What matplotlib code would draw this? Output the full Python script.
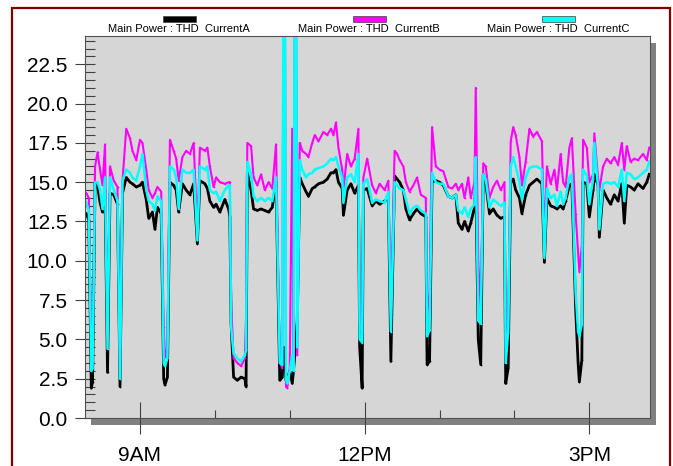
import numpy as np
import matplotlib
matplotlib.use("Agg")
import matplotlib.pyplot as plt
from matplotlib.patches import Rectangle
from matplotlib.ticker import MultipleLocator, FixedLocator

plt.rcParams['font.family'] = ['Liberation Sans', 'DejaVu Sans']

# sample times (clock time) and THD readings (%) for the three phases
times = [
    "8:17", "8:19", "8:21", "8:22", "8:24", "8:26", "8:28", "8:30", "8:32", "8:34",
    "8:36", "8:39", "8:42", "8:44", "8:46", "8:49", "8:52", "8:54", "8:57", "9:00",
    "9:02", "9:05", "9:07", "9:10", "9:12", "9:14", "9:17", "9:19", "9:20", "9:22",
    "9:24", "9:27", "9:29", "9:31", "9:34", "9:37", "9:40", "9:43", "9:46", "9:48",
    "9:52", "9:54", "9:56", "9:59", "10:01", "10:04", "10:08", "10:11", "10:12", "10:13",
    "10:15", "10:18", "10:21", "10:24", "10:25", "10:26", "10:29", "10:31", "10:34", "10:37",
    "10:40", "10:43", "10:46", "10:49", "10:52", "10:54", "10:55", "10:56", "10:57", "10:58",
    "11:00", "11:02", "11:03", "11:04", "11:05", "11:06", "11:08", "11:10", "11:13", "11:15",
    "11:18", "11:20", "11:23", "11:27", "11:30", "11:33", "11:35", "11:37", "11:39", "11:42",
    "11:43", "11:46", "11:49", "11:52", "11:55", "11:56", "11:58", "11:59", "12:02", "12:06",
    "12:09", "12:12", "12:16", "12:19", "12:21", "12:24", "12:26", "12:28", "12:31", "12:33",
    "12:36", "12:39", "12:42", "12:45", "12:49", "12:50", "12:52", "12:54", "12:57", "13:00",
    "13:03", "13:07", "13:10", "13:13", "13:15", "13:18", "13:20", "13:23", "13:25", "13:28",
    "13:29", "13:31", "13:33", "13:35", "13:37", "13:40", "13:43", "13:46", "13:49", "13:52",
    "13:53", "13:55", "13:57", "13:59", "14:01", "14:04", "14:06", "14:09", "14:12", "14:15",
    "14:18", "14:22", "14:24", "14:26", "14:29", "14:32", "14:34", "14:37", "14:39", "14:41",
    "14:44", "14:46", "14:49", "14:51", "14:52", "14:54", "14:55", "14:58", "15:00", "15:03",
    "15:04", "15:07", "15:08", "15:11", "15:14", "15:17", "15:20", "15:23", "15:26", "15:28",
    "15:30", "15:33", "15:36", "15:39", "15:43", "15:46", "15:48",
]

thd_a = [
    13.0, 12.6, 1.9, 2.3, 14.9, 14.8, 13.7, 13.1, 14.5, 2.9,
    14.3, 14.2, 13.6, 2.0, 14.3, 15.3, 15.0, 14.9, 14.7, 14.8,
    15.0, 13.9, 12.7, 13.1, 12.0, 13.4, 13.0, 2.5, 2.1, 2.6,
    15.0, 14.8, 14.5, 13.1, 14.9, 14.5, 14.2, 14.9, 11.1, 15.1,
    14.9, 14.6, 13.8, 13.4, 13.6, 13.1, 13.9, 13.3, 12.8, 6.0,
    2.6, 2.4, 2.6, 2.5, 2.0, 15.6, 14.5, 13.3, 13.2, 13.3,
    13.2, 13.1, 13.4, 15.0, 2.4, 2.6, 4.5, 3.5, 2.4, 2.5,
    3.0, 2.2, 3.0, 4.0, 5.0, 6.2, 15.3, 14.9, 14.4, 14.1,
    14.6, 14.7, 14.9, 15.0, 15.2, 15.6, 15.6, 15.8, 15.0, 14.6,
    12.9, 14.5, 14.9, 14.3, 14.8, 4.5, 1.9, 14.5, 14.6, 13.5,
    13.8, 13.6, 13.8, 14.0, 3.6, 15.4, 15.2, 15.0, 14.5, 13.3,
    12.6, 13.0, 13.3, 13.0, 12.8, 3.4, 3.6, 15.0, 15.1, 15.0,
    14.8, 14.1, 14.0, 14.2, 12.4, 12.0, 12.5, 11.9, 12.4, 13.4,
    15.0, 5.0, 3.4, 15.5, 15.0, 13.0, 13.3, 12.9, 12.7, 12.8,
    2.2, 3.2, 15.0, 15.2, 14.5, 14.0, 13.0, 14.2, 14.8, 15.0,
    15.2, 14.9, 9.9, 14.0, 13.5, 13.4, 13.3, 13.5, 13.3, 13.8,
    14.8, 14.9, 7.0, 3.5, 2.3, 3.7, 15.0, 14.9, 12.8, 14.5,
    15.5, 14.8, 11.5, 14.5, 14.0, 13.6, 14.2, 13.8, 14.9, 12.4,
    14.8, 14.7, 14.5, 14.9, 14.6, 15.0, 15.5,
]

thd_b = [
    14.3, 14.0, 4.1, 3.6, 16.0, 16.9, 15.8, 14.8, 17.4, 5.1,
    16.0, 15.1, 14.7, 2.7, 15.1, 18.4, 17.8, 17.0, 16.4, 17.7,
    17.5, 15.8, 14.5, 14.0, 14.3, 14.7, 14.4, 5.8, 3.9, 4.5,
    17.7, 17.0, 16.5, 15.1, 16.6, 17.0, 16.8, 17.5, 11.8, 17.2,
    17.0, 17.2, 16.0, 14.7, 15.3, 15.0, 14.9, 15.0, 15.0, 7.3,
    3.8, 3.5, 3.3, 3.8, 6.4, 17.5, 17.3, 15.3, 14.8, 15.5,
    14.5, 15.0, 14.6, 17.4, 3.5, 3.2, 30.0, 30.0, 2.0, 1.9,
    3.2, 18.4, 3.5, 30.0, 30.0, 4.0, 17.5, 17.0, 16.8, 16.6,
    17.5, 18.0, 17.6, 18.2, 18.0, 18.4, 18.0, 18.8, 17.2, 15.8,
    14.5, 16.8, 16.0, 16.5, 18.4, 6.0, 5.5, 15.3, 16.5, 14.8,
    14.3, 14.9, 14.5, 15.1, 6.4, 17.0, 16.8, 16.4, 16.0, 15.0,
    14.4, 14.8, 15.3, 14.2, 14.0, 6.5, 8.0, 18.5, 16.0, 15.8,
    15.7, 14.7, 14.6, 14.9, 14.5, 14.9, 14.0, 15.3, 14.0, 15.0,
    21.0, 9.9, 7.0, 16.2, 16.0, 14.0, 14.7, 15.1, 14.5, 15.0,
    4.5, 5.8, 17.6, 18.5, 18.0, 16.6, 14.8, 16.3, 18.4, 17.9,
    18.2, 17.6, 11.2, 16.0, 14.9, 15.8, 14.5, 16.8, 15.0, 14.7,
    17.2, 17.8, 13.0, 10.5, 9.3, 11.0, 17.7, 17.2, 15.0, 15.5,
    18.1, 15.2, 14.5, 16.0, 16.5, 16.2, 16.6, 16.1, 17.5, 15.8,
    17.3, 16.3, 16.5, 16.4, 16.8, 16.4, 17.2,
]

thd_c = [
    13.7, 13.2, 3.0, 3.2, 15.0, 15.0, 14.5, 13.3, 15.3, 4.4,
    15.3, 14.5, 13.8, 2.5, 15.1, 15.8, 15.6, 15.3, 15.1, 16.0,
    16.8, 14.5, 13.8, 13.6, 13.2, 14.1, 13.8, 3.5, 3.3, 3.8,
    16.0, 15.8, 15.3, 13.3, 15.8, 15.6, 15.6, 15.8, 11.3, 16.0,
    15.8, 16.0, 14.5, 14.3, 14.4, 13.8, 14.5, 14.8, 14.8, 5.8,
    4.1, 3.8, 3.6, 4.0, 4.3, 16.3, 15.5, 14.1, 13.8, 14.0,
    13.8, 14.0, 13.8, 15.3, 3.5, 3.4, 30.0, 30.0, 2.5, 2.2,
    3.0, 4.0, 3.0, 30.0, 30.0, 4.5, 16.4, 15.8, 15.3, 15.5,
    15.6, 15.8, 15.9, 16.0, 16.2, 16.5, 16.4, 16.6, 16.0, 15.3,
    13.7, 15.3, 15.5, 15.0, 16.8, 5.0, 4.8, 14.9, 15.2, 13.7,
    13.9, 13.8, 13.7, 14.4, 5.5, 15.0, 14.8, 14.6, 14.5, 13.9,
    13.0, 13.4, 13.5, 13.2, 13.0, 5.2, 5.6, 15.6, 15.0, 14.9,
    14.9, 14.1, 14.0, 14.2, 13.2, 13.0, 13.4, 12.8, 13.3, 13.6,
    16.6, 6.2, 6.0, 15.5, 15.2, 13.4, 13.9, 13.7, 13.5, 13.7,
    3.5, 5.5, 16.0, 16.6, 16.0, 15.0, 13.9, 15.3, 15.9, 16.0,
    16.0, 15.8, 10.2, 14.6, 14.0, 14.2, 13.5, 14.4, 13.6, 14.0,
    15.3, 15.5, 8.0, 5.5, 5.2, 6.0, 15.8, 15.4, 13.6, 15.2,
    17.5, 14.6, 12.0, 14.9, 15.0, 14.9, 15.0, 14.7, 15.8, 13.8,
    15.6, 15.5, 15.2, 15.3, 15.6, 15.8, 16.3,
]

series_names = ["Main Power : THD  CurrentA",
                "Main Power : THD  CurrentB",
                "Main Power : THD  CurrentC"]
series_colors = ["#000000", "#ff00ff", "#00ffff"]

hour_ticks = [9, 12, 15]
hour_labels = ["9AM", "12PM", "3PM"]


def to_hours(s):
    h, m = s.split(":")
    return int(h) + int(m) / 60.0


t = np.array([to_hours(s) for s in times])

W, H = 673, 466
fig = plt.figure(figsize=(W / 100, H / 100), dpi=100)
fig.patch.set_facecolor("white")

# plot area in pixels
px_l, px_r, px_t, px_b = 85, 650, 36, 418
ax = fig.add_axes([px_l / W, 1 - px_b / H, (px_r - px_l) / W, (px_b - px_t) / H])
ax.set_zorder(2)
ax.set_facecolor("#d6d6d6")

# drop shadow behind the plot area
shadow = Rectangle(((px_l + 6) / W, 1 - (px_b + 7) / H), (px_r - px_l) / W,
                   (px_b - px_t) / H, transform=fig.transFigure,
                   facecolor="#808080", edgecolor="none", zorder=1)
fig.patches.append(shadow)

# dark red frame (open at the bottom)
frame = Rectangle((12 / W, -0.1), 658 / W, 1.1 - 8 / H, transform=fig.transFigure,
                  fill=False, edgecolor="#800000", linewidth=1.6, zorder=3,
                  clip_on=False)
fig.patches.append(frame)

for vals, col, lw in zip([thd_a, thd_b, thd_c], series_colors, [2.0, 1.5, 1.8]):
    ax.plot(t, vals, color=col, lw=lw, marker=".", ms=2.5, mew=0)

ax.set_xlim(8.266, 15.81)
ax.set_ylim(0, 24.3)

ax.yaxis.set_major_locator(MultipleLocator(2.5))
ax.yaxis.set_minor_locator(MultipleLocator(0.5))
ax.yaxis.set_major_formatter(plt.FormatStrFormatter("%.1f"))
ax.xaxis.set_major_locator(FixedLocator(hour_ticks))
ax.set_xticklabels(hour_labels)
ax.xaxis.set_minor_locator(FixedLocator([10, 11, 13, 14]))

tick_col = "#404040"
ax.tick_params(axis="y", which="major", direction="inout", length=15,
               width=0.8, color=tick_col, labelsize=15, pad=5)
ax.tick_params(axis="y", which="minor", direction="in", length=7.5,
               width=0.8, color=tick_col)
ax.tick_params(axis="x", which="major", direction="inout", length=23,
               width=0.8, color=tick_col, labelsize=15, pad=9)
ax.tick_params(axis="x", which="minor", direction="in", length=6,
               width=0.8, color=tick_col)
for sp in ax.spines.values():
    sp.set_color("#505050")
    sp.set_linewidth(0.8)

# legend above the plot: coloured bar with its label underneath
for cx, name, col in zip([179, 369, 558], series_names, series_colors):
    bar = Rectangle(((cx - 16) / W, 1 - 22 / H), 33 / W, 6 / H,
                    transform=fig.transFigure, facecolor=col,
                    edgecolor="#404040", linewidth=0.5, zorder=3)
    fig.patches.append(bar)
    fig.text(cx / W, 1 - 29 / H, name, ha="center", va="center", fontsize=8)

fig.savefig("out.png", dpi=100)
